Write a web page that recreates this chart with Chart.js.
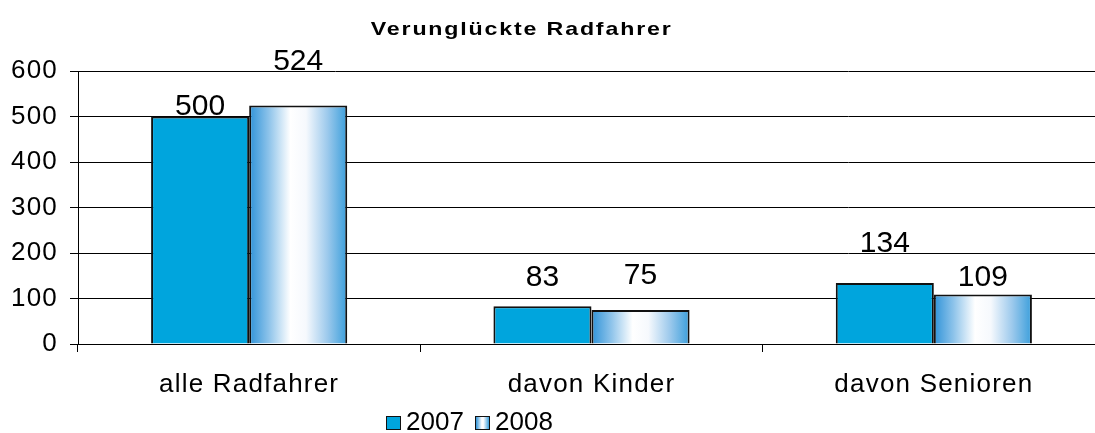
<!DOCTYPE html>
<html lang="de">
<head>
<meta charset="utf-8">
<title>Verunglückte Radfahrer</title>
<script src="https://cdn.jsdelivr.net/npm/chart.js@4"></script>
<style>
    html, body {
        margin: 0;
        padding: 0;
        background: #fff;
        overflow: hidden;
        width: 1095px;
        height: 433px;
    }
    #wrap {
        position: relative;
        width: 1112px;
        height: 433px;
    }
    #title {
        position: absolute;
        left: 0;
        top: 19px;
        width: 1044px;
        text-align: center;
        font: bold 19px/19px 'Liberation Sans', Arial, sans-serif;
        color: #000;
    }
    #title span {
        display: inline-block;
        letter-spacing: 1.5px;
        transform: scaleX(1.22);
        transform-origin: center;
    }
    .legend-box {
        position: absolute;
        width: 15px;
        height: 14px;
        box-sizing: border-box;
        border: 1.5px solid #111;
    }
    .legend-text {
        position: absolute;
        font: 26px/26px 'Liberation Sans', Arial, sans-serif;
        color: #000;
    }
</style>
</head>
<body>
<div id="wrap">
    <canvas id="chart"></canvas>
    <div id="title"><span>Verunglückte Radfahrer</span></div>
</div>
<script>
const FONT = "'Liberation Sans', Arial, sans-serif";

// data
const categories = ['alle Radfahrer', 'davon Kinder', 'davon Senioren'];
const years = ['2007', '2008'];
const values2007 = [500, 83, 134];
const values2008 = [524, 75, 109];
const yTicks = [0, 100, 200, 300, 400, 500, 600];

// label lift above bar top (px), as placed in the original
const labelLift = [
    [2, 20, 31],
    [36, 26, 8],
];

const BLUE = '#00a5dd';
const CAT_PCT = 0.573;

function gradientFor(ctx, x0, x1) {
    const g = ctx.createLinearGradient(x0, 0, x1, 0);
    g.addColorStop(0, '#2f93d8');
    g.addColorStop(0.2, '#8dc3ea');
    g.addColorStop(0.42, '#ffffff');
    g.addColorStop(0.58, '#f6f9fd');
    g.addColorStop(0.8, '#9cc9ec');
    g.addColorStop(1, '#3a9edb');
    return g;
}

function fill2008(context) {
    const chart = context.chart;
    if (!chart.chartArea || context.dataIndex === undefined) return '#7fbde6';
    const x = chart.scales.x;
    const c = x.getPixelForValue(context.dataIndex);
    const w = x.width / categories.length * CAT_PCT / 2;
    return gradientFor(chart.ctx, c, c + w);
}

// axis text in the original is set a little wide
const tickSpacing = {
    id: 'tickSpacing',
    beforeDraw(chart) {
        chart.ctx.letterSpacing = '1.2px';
    }
};

const valueLabels = {
    id: 'valueLabels',
    afterDatasetsDraw(chart) {
        const ctx = chart.ctx;
        ctx.save();
        ctx.letterSpacing = '0px';
        ctx.font = '30px ' + FONT;
        ctx.fillStyle = '#000';
        ctx.textAlign = 'center';
        ctx.textBaseline = 'alphabetic';
        chart.data.datasets.forEach((ds, i) => {
            chart.getDatasetMeta(i).data.forEach((bar, j) => {
                ctx.fillText(String(ds.data[j]), bar.x, bar.y - labelLift[i][j]);
            });
        });
        ctx.restore();
    }
};

new Chart(document.getElementById('chart'), {
    type: 'bar',
    data: {
        labels: categories,
        datasets: [{
            label: years[0],
            data: values2007,
            backgroundColor: BLUE,
            borderColor: '#111',
            borderWidth: 2,
            borderSkipped: 'bottom',
        }, {
            label: years[1],
            data: values2008,
            backgroundColor: fill2008,
            borderColor: '#111',
            borderWidth: 2,
            borderSkipped: 'bottom',
        }]
    },
    options: {
        responsive: true,
        maintainAspectRatio: false,
        animation: false,
        categoryPercentage: CAT_PCT,
        barPercentage: 1,
        layout: {
            padding: { top: 71, right: 7, left: 0, bottom: 0 }
        },
        plugins: {
            legend: { display: false },
            title: { display: false },
            tooltip: { enabled: false },
        },
        scales: {
            x: {
                afterFit(scale) { scale.height = 89; },
                grid: {
                    offset: true,
                    drawOnChartArea: false,
                    color: '#000',
                    tickLength: 8,
                    lineWidth: 1,
                },
                border: { display: true, color: '#000', width: 1 },
                ticks: {
                    color: '#000',
                    padding: 17,
                    font: { family: FONT, size: 26 },
                }
            },
            y: {
                min: 0,
                max: 600,
                afterFit(scale) { scale.width = 78; },
                afterBuildTicks(scale) {
                    scale.ticks = yTicks.map(v => ({ value: v }));
                },
                grid: {
                    color: '#000',
                    tickLength: 8,
                    lineWidth: 1,
                },
                border: { display: true, color: '#000', width: 1 },
                ticks: {
                    color: '#000',
                    padding: 12,
                    font: { family: FONT, size: 26 },
                }
            }
        }
    },
    plugins: [tickSpacing, valueLabels]
});

// legend, built from the series names
const wrap = document.getElementById('wrap');
const legendX = [386, 475];
years.forEach((year, i) => {
    const box = document.createElement('div');
    box.className = 'legend-box';
    box.style.left = legendX[i] + 'px';
    box.style.top = '416px';
    box.style.background = i === 0 ? BLUE
        : 'linear-gradient(to right, #2f93d8, #ffffff 45%, #f6f9fd 58%, #3a9edb)';
    wrap.appendChild(box);

    const txt = document.createElement('div');
    txt.className = 'legend-text';
    txt.style.left = (legendX[i] + 20) + 'px';
    txt.style.top = '408px';
    txt.textContent = year;
    wrap.appendChild(txt);
});
</script>
</body>
</html>
